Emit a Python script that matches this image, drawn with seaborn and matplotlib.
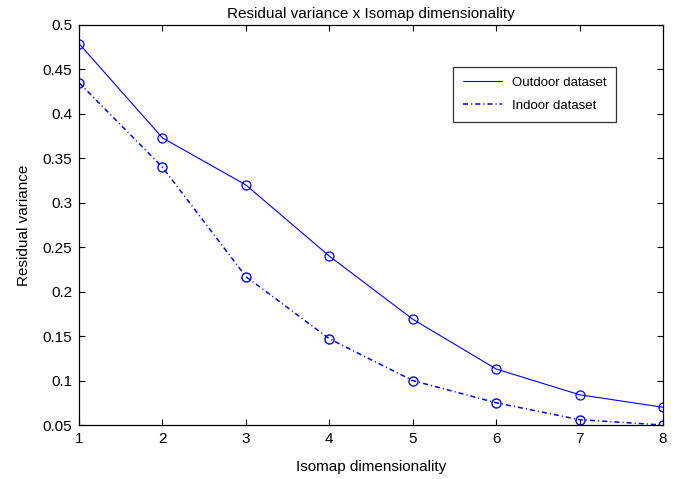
import pandas as pd
import matplotlib
matplotlib.use("Agg")
import matplotlib.pyplot as plt
import seaborn as sns

dims = [1, 2, 3, 4, 5, 6, 7, 8]
outdoor = [0.479, 0.373, 0.320, 0.240, 0.169, 0.113, 0.084, 0.070]
indoor = [0.435, 0.340, 0.217, 0.147, 0.100, 0.075, 0.056, 0.050]
y_ticks = [0.05, 0.1, 0.15, 0.2, 0.25, 0.3, 0.35, 0.4, 0.45, 0.5]

sns.set_style("ticks")
plt.rcParams['font.family'] = ['Liberation Sans', 'DejaVu Sans']
plt.rcParams['xtick.direction'] = 'in'
plt.rcParams['ytick.direction'] = 'in'
plt.rcParams['text.color'] = 'black'
plt.rcParams['axes.labelcolor'] = 'black'
plt.rcParams['xtick.color'] = 'black'
plt.rcParams['ytick.color'] = 'black'

fig = plt.figure(figsize=(6.78, 4.79), dpi=100)
ax = fig.add_axes([0.1165, 0.1127, 0.8615, 0.8353])

# solid line for outdoor, MATLAB-ish dash-dot for indoor
sns.lineplot(x=dims, y=outdoor, ax=ax, color='#0000ff', linewidth=0.8,
             marker='o', markersize=6.5, markerfacecolor='none',
             markeredgecolor='#0000ff', markeredgewidth=0.9,
             label='Outdoor dataset')
sns.lineplot(x=dims, y=indoor, ax=ax, color='#0000ff', linewidth=1.1,
             linestyle=(0, (3.3, 2.0, 0.7, 2.0)), marker='o', markersize=6.5,
             markerfacecolor='none', markeredgecolor='#0000ff',
             markeredgewidth=1.0, label='Indoor dataset')

ax.set_xlim(1, 8)
ax.set_ylim(0.05, 0.5)
ax.set_xticks(dims)
ax.set_yticks(y_ticks)
ax.set_yticklabels([f"{t:g}" for t in y_ticks])
ax.tick_params(axis='both', labelsize=11, length=4, width=0.8,
               top=True, right=True, pad=5, colors='black')
for sp in ax.spines.values():
    sp.set_linewidth(0.9)
    sp.set_color('black')

ax.set_title("Residual variance x Isomap dimensionality", fontsize=11, pad=5)
ax.set_xlabel("Isomap dimensionality", fontsize=11, labelpad=10)
ax.set_ylabel("Residual variance", fontsize=11, labelpad=8)

leg = ax.legend(loc='upper right', bbox_to_anchor=(0.9195, 0.895), fontsize=9.5,
                frameon=True, fancybox=False, edgecolor='black',
                handlelength=2.9, borderpad=0.75, labelspacing=0.8,
                handletextpad=0.75, borderaxespad=0)
leg.get_frame().set_linewidth(0.9)
for h in leg.legend_handles:
    h.set_marker('')

fig.savefig("out.png", dpi=100)
